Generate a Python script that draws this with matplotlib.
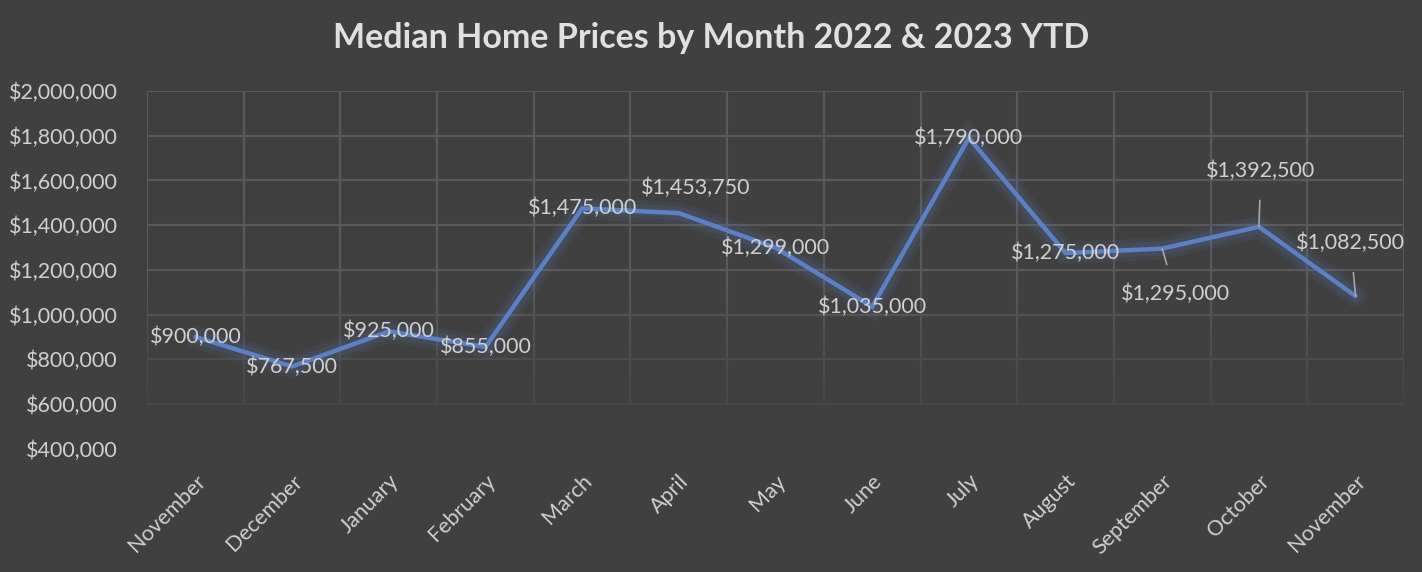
import matplotlib
matplotlib.use("Agg")
import matplotlib.pyplot as plt
import matplotlib.patheffects as pe
from matplotlib.collections import LineCollection
from matplotlib.ticker import FuncFormatter
import numpy as np

months = ["November", "December", "January", "February", "March", "April", "May",
          "June", "July", "August", "September", "October", "November"]
prices = [900000, 767500, 925000, 855000, 1475000, 1453750, 1299000,
          1035000, 1790000, 1275000, 1295000, 1392500, 1082500]
yticks = [400000, 600000, 800000, 1000000, 1200000, 1400000, 1600000, 1800000, 2000000]
title = "Median Home Prices by Month 2022 & 2023 YTD"

# label offsets in pixels (dx, dy) and whether a leader line is drawn
label_offsets = [(0, 0), (0, 0), (0, 0), (0, 0), (0, 0), (17, 25), (0, 0),
                 (0, 0), (0, 0), (0, 0), (13, -45), (2, 56), (-5, 53)]
leaders = [False] * 10 + [True, True, True]

BG = "#404040"
TXT = "#d0d0d0"
LINE = "#5b80c4"
FONT = "Lato"


def grid_col(v):
    # grid fades toward the bottom of the plot area
    t = np.clip((v - 600000) / 600000, 0, 1)
    c = 0x47 + (0x59 - 0x47) * t
    return (c / 255, c / 255, c / 255)


fig = plt.figure(figsize=(14.22, 5.72), dpi=100, facecolor=BG)
ax = fig.add_axes([0.1034, 0.2156, 0.8839, 0.6253])
ax.set_facecolor(BG)
for s in ax.spines.values():
    s.set_visible(False)

n = len(months)
xs = list(range(n))
ax.set_xlim(-0.5, n - 0.5)
ax.set_ylim(400000, 2000000)

# grid (plot area spans 600k to 2M)
for v in yticks[1:]:
    ax.hlines(v, -0.5, n - 0.5, color=grid_col(v), lw=1.6, zorder=1)
ys = np.linspace(600000, 2000000, 71)
segs, cols = [], []
for i in range(n + 1):
    for a, b in zip(ys[:-1], ys[1:]):
        segs.append([(i - 0.5, a), (i - 0.5, b)])
        cols.append(grid_col((a + b) / 2))
ax.add_collection(LineCollection(segs, colors=cols, lw=1.6, zorder=1))

ax.plot(xs, prices, color=LINE, lw=3.2, zorder=3, solid_capstyle="round",
        solid_joinstyle="miter",
        path_effects=[pe.Stroke(linewidth=16, foreground=LINE, alpha=0.08),
                      pe.Stroke(linewidth=10, foreground=LINE, alpha=0.13),
                      pe.Normal()])

for x, y, (dx, dy), ld in zip(xs, prices, label_offsets, leaders):
    txt = "${:,.0f}".format(y)
    kw = dict(xytext=(dx, dy), textcoords="offset pixels", ha="center", va="center",
              color=TXT, fontsize=15.5, family=FONT, zorder=4)
    if ld:
        kw["arrowprops"] = dict(arrowstyle="-", color="#a6a6a6", lw=1.2,
                                shrinkA=12, shrinkB=0)
    ax.annotate(txt, (x, y), **kw)

ax.set_yticks(yticks)
ax.yaxis.set_major_formatter(FuncFormatter(lambda v, p: "${:,.0f}".format(v)))
ax.set_xticks(xs)
ax.set_xticklabels(months)
ax.tick_params(axis="both", length=0, colors=TXT, labelsize=15.5)
ax.tick_params(axis="y", pad=21)
ax.tick_params(axis="x", pad=16)
for lab in ax.get_yticklabels():
    lab.set_family(FONT)
for lab in ax.get_xticklabels():
    lab.set_family(FONT)
    lab.set_rotation(45)
    lab.set_ha("right")
    lab.set_rotation_mode("anchor")

fig.text(0.5, 0.933, title, ha="center", va="center", color="#e0e0e0",
         fontsize=24.5, fontweight="bold", family=FONT)

fig.savefig("out.png", dpi=100, facecolor=BG)
